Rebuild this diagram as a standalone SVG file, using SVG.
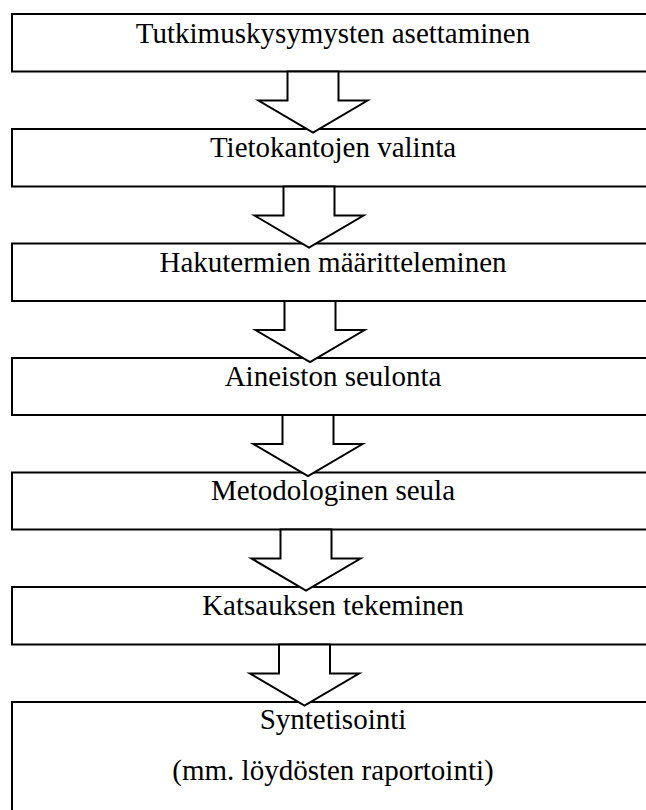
<svg xmlns="http://www.w3.org/2000/svg" width="646" height="810" viewBox="0 0 646 810">
  <style>
    .box { fill: #ffffff; stroke: #000000; stroke-width: 2; }
    .arrow { fill: #ffffff; stroke: #000000; stroke-width: 2; stroke-linejoin: miter; }
    .label { font-family: "Liberation Serif", "Times New Roman", serif; font-size: 29px; fill: #000000; text-anchor: middle; }
  </style>
  <rect x="0" y="0" width="646" height="810" fill="#ffffff"/>

  <!-- process steps -->
  <g id="step1">
    <rect class="box" x="12" y="14" width="660" height="57.5"/>
    <text class="label" x="333" y="43">Tutkimuskysymysten asettaminen</text>
  </g>
  <g id="step2">
    <rect class="box" x="12" y="129" width="660" height="57.5"/>
    <text class="label" x="333" y="157">Tietokantojen valinta</text>
  </g>
  <g id="step3">
    <rect class="box" x="12" y="243.5" width="660" height="57.5"/>
    <text class="label" x="333" y="271.5">Hakutermien määritteleminen</text>
  </g>
  <g id="step4">
    <rect class="box" x="12" y="358" width="660" height="57"/>
    <text class="label" x="333" y="386">Aineiston seulonta</text>
  </g>
  <g id="step5">
    <rect class="box" x="12" y="472.5" width="660" height="57"/>
    <text class="label" x="333" y="500">Metodologinen seula</text>
  </g>
  <g id="step6">
    <rect class="box" x="12" y="587" width="660" height="57.5"/>
    <text class="label" x="333" y="614.5">Katsauksen tekeminen</text>
  </g>
  <g id="step7">
    <rect class="box" x="12" y="702" width="660" height="140"/>
    <text class="label" x="333" y="728.5">Syntetisointi</text>
    <text class="label" x="333" y="780">(mm. löydösten raportointi)</text>
  </g>

  <!-- block arrows between steps -->
  <g id="connectors">
    <polygon class="arrow" points="287.5,71.5 338.5,71.5 338.5,100.5 367.5,100.5 313,132.5 258.5,100.5 287.5,100.5"/>
    <polygon class="arrow" points="283.5,186.5 334.5,186.5 334.5,215.5 363.5,215.5 309,247.5 254.5,215.5 283.5,215.5"/>
    <polygon class="arrow" points="284.5,301 335.5,301 335.5,330 364.5,330 310,362 255.5,330 284.5,330"/>
    <polygon class="arrow" points="282.5,415 333.5,415 333.5,444 362.5,444 308,476 253.5,444 282.5,444"/>
    <polygon class="arrow" points="280.5,529.5 331.5,529.5 331.5,558.5 360.5,558.5 306,590.5 251.5,558.5 280.5,558.5"/>
    <polygon class="arrow" points="279,644.5 330,644.5 330,673.5 359,673.5 304.5,705.5 250,673.5 279,673.5"/>
  </g>
</svg>
